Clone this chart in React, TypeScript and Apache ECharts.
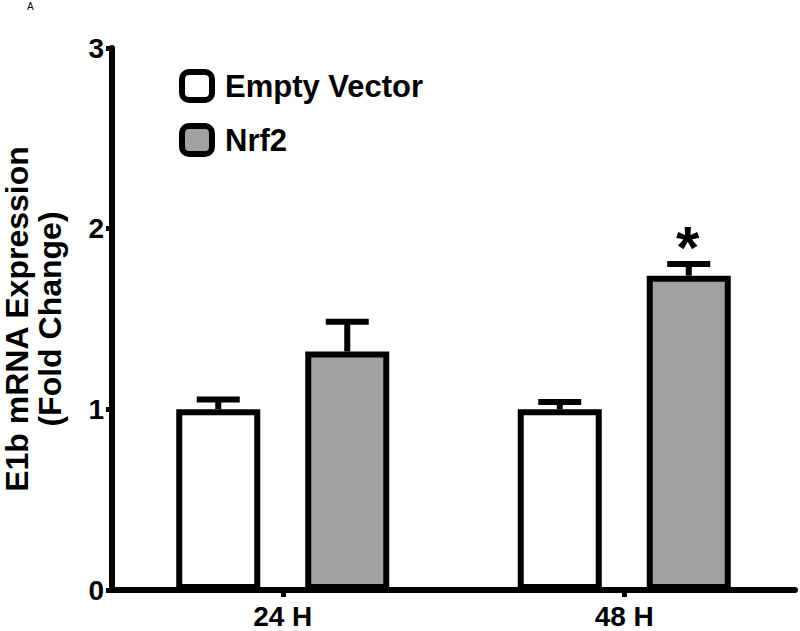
import React, { useEffect, useRef } from "react";
import * as echarts from "echarts";

const categories = ["24 H", "48 H"];
const emptyVector = [1.0, 1.0];
const emptyVectorErr = [0.055, 0.04];
const nrf2 = [1.32, 1.74];
const nrf2Err = [0.165, 0.065];
const nrf2Signif = ["", "*"];
const yTicks = [0, 1, 2, 3];

const FONT = "'Liberation Sans', Arial, Helvetica, sans-serif";
const BAR_W = 84;
const BAR_GAP_PX = 45;
const OFFSET = (BAR_W + BAR_GAP_PX) / 2;

function errSeries(name: string, vals: number[], errs: number[], marks: string[], offset: number) {
  return {
    type: "custom",
    name: name + " err",
    z: 1,
    silent: true,
    data: vals.map((v, i) => [i, v, errs[i], marks[i] || ""]),
    renderItem: (params: any, api: any) => {
      const idx = api.value(0);
      const v = api.value(1);
      const e = api.value(2);
      const base = api.coord([idx, v]);
      const top = api.coord([idx, v + e]);
      const x = base[0] + offset;
      const mark = marks[params.dataIndex] || "";
      const children: any[] = [
        { type: "line", shape: { x1: x, y1: base[1], x2: x, y2: top[1] }, style: { stroke: "#000", lineWidth: 6 } },
        { type: "line", shape: { x1: x - 21.5, y1: top[1], x2: x + 21.5, y2: top[1] }, style: { stroke: "#000", lineWidth: 6 } },
      ];
      if (mark) {
        children.push({
          type: "text",
          style: {
            text: mark,
            x: x - 1,
            y: top[1] + 14,
            align: "center",
            verticalAlign: "bottom",
            fontSize: 60,
            fontWeight: "bold",
            fontFamily: FONT,
            fill: "#000",
          },
        });
      }
      return { type: "group", children };
    },
  };
}

export default function App() {
  const ref = useRef<HTMLDivElement>(null);
  useEffect(() => {
    if (!ref.current) return;
    const chart = echarts.init(ref.current, undefined, { renderer: "svg" });
    chart.setOption({
      animation: false,
      backgroundColor: "#fff",
      title: {
        text: "A",
        left: 27,
        top: 1,
        padding: 0,
        textStyle: { fontSize: 10, fontWeight: "normal", fontFamily: FONT, color: "#000" },
      },
      legend: {
        orient: "vertical",
        left: 179,
        top: 69,
        padding: 0,
        icon: "roundRect",
        itemWidth: 30,
        itemHeight: 28,
        itemGap: 20,
        data: ["Empty Vector", "Nrf2"],
        itemStyle: { borderColor: "#000", borderWidth: 6 },
        textStyle: {
          fontSize: 31,
          fontWeight: "bold",
          fontFamily: FONT,
          color: "#000",
          lineHeight: 28,
          padding: [0, 0, 0, 8],
        },
      },
      grid: { left: 112, right: 5, top: 48, bottom: 41, containLabel: false, outerBoundsMode: "none" },
      xAxis: {
        type: "category",
        data: categories,
        axisLine: { lineStyle: { color: "#000", width: 6 } },
        axisTick: { show: true, alignWithLabel: true, length: 7, lineStyle: { color: "#000", width: 5 } },
        axisLabel: { fontSize: 28, fontWeight: "bold", fontFamily: FONT, color: "#000", margin: 12 },
      },
      yAxis: {
        type: "value",
        min: yTicks[0],
        max: yTicks[yTicks.length - 1],
        interval: 1,
        name: "E1b mRNA Expression\n(Fold Change)",
        nameLocation: "middle",
        nameRotate: 90,
        nameGap: 46,
        nameTextStyle: { fontSize: 32, fontWeight: "bold", fontFamily: FONT, color: "#000", lineHeight: 33 },
        splitLine: { show: false },
        axisLine: { show: true, lineStyle: { color: "#000", width: 6 } },
        axisTick: { show: true, length: 6, lineStyle: { color: "#000", width: 5 } },
        axisLabel: { fontSize: 28, fontWeight: "bold", fontFamily: FONT, color: "#000", margin: 8 },
      },
      series: [
        {
          name: "Empty Vector",
          type: "bar",
          z: 2,
          data: emptyVector,
          barWidth: BAR_W,
          barGap: (BAR_GAP_PX / BAR_W) * 100 + "%",
          itemStyle: { color: "#ffffff", borderColor: "#000", borderWidth: 6 },
        },
        {
          name: "Nrf2",
          type: "bar",
          z: 2,
          data: nrf2,
          barWidth: BAR_W,
          barGap: (BAR_GAP_PX / BAR_W) * 100 + "%",
          itemStyle: { color: "#A1A1A4", borderColor: "#000", borderWidth: 6 },
        },
        errSeries("Empty Vector", emptyVector, emptyVectorErr, ["", ""], -OFFSET),
        errSeries("Nrf2", nrf2, nrf2Err, nrf2Signif, OFFSET),
      ],
    });
    return () => chart.dispose();
  }, []);
  return <div ref={ref} style={{ width: 800, height: 631, position: "absolute", left: 0, top: 0 }} />;
}
